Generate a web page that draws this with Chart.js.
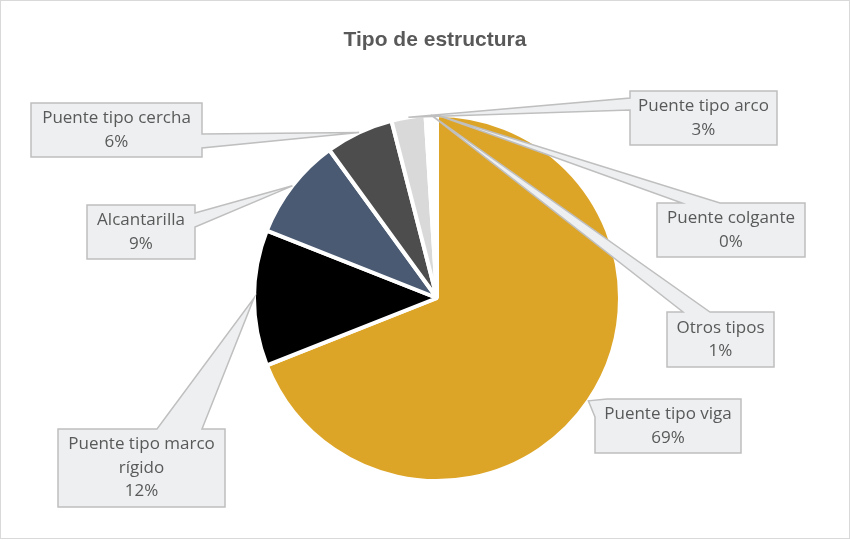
<!DOCTYPE html>
<html>
<head>
<meta charset="UTF-8">
<title>Tipo de estructura</title>
<script src="https://cdn.jsdelivr.net/npm/chart.js"></script>
<style>
  body { margin: 0; background: #fff; }
  #wrap { width: 850px; height: 540px; position: relative; }
</style>
</head>
<body>
<div id="wrap"><canvas id="pie"></canvas></div>
<script>
// datos
const categorias = ['Puente tipo viga', 'Puente tipo marco rígido', 'Alcantarilla', 'Puente tipo cercha', 'Puente tipo arco', 'Otros tipos', 'Puente colgante'];
const porcentajes = [69, 12, 9, 6, 3, 1, 0];
const colores = ['#DDA528', '#000000', '#4A5A72', '#4D4D4D', '#D9D9D9', '#FFFFFF', '#FFFFFF'];
const titulo = 'Tipo de estructura';

// cajas de las etiquetas (posicion de la caja y de la base de la flecha)
const cajas = [
  { x: 595, y: 399, w: 146, h: 54, side: 'corner', from: 18, to: 12, lines: ['Puente tipo viga'] },
  { x: 58, y: 429, w: 167, h: 78, side: 'top', from: 99, to: 144, lines: ['Puente tipo marco', 'rígido'] },
  { x: 87, y: 205, w: 108, h: 54, side: 'right', from: 8, to: 22, lines: ['Alcantarilla'] },
  { x: 31, y: 103, w: 171, h: 54, side: 'right', from: 31, to: 45, lines: ['Puente tipo cercha'] },
  { x: 630, y: 91, w: 147, h: 54, side: 'left', from: 7, to: 19, lines: ['Puente tipo arco'] },
  { x: 667, y: 312, w: 107, h: 55, side: 'top', from: 16, to: 43, lines: ['Otros tipos'] },
  { x: 657, y: 203, w: 148, h: 54, side: 'top', from: 25, to: 63, lines: ['Puente colgante'] }
];

function contorno(b, tip) {
  const TL = [b.x, b.y], TR = [b.x + b.w, b.y], BR = [b.x + b.w, b.y + b.h], BL = [b.x, b.y + b.h];
  if (b.side == 'top') return [TL, [b.x + b.from, b.y], tip, [b.x + b.to, b.y], TR, BR, BL];
  if (b.side == 'right') return [TL, TR, [b.x + b.w, b.y + b.from], tip, [b.x + b.w, b.y + b.to], BR, BL];
  if (b.side == 'left') return [TL, TR, BR, BL, [b.x, b.y + b.to], tip, [b.x, b.y + b.from]];
  return [[b.x, b.y + b.from], tip, [b.x + b.to, b.y], TR, BR, BL];
}

const etiquetas = {
  id: 'etiquetas',
  beforeDraw(chart) {
    const ctx = chart.ctx;
    ctx.save();
    ctx.strokeStyle = '#D9D9D9';
    ctx.lineWidth = 1;
    ctx.strokeRect(0.5, 0.5, chart.width - 1, chart.height - 2);
    ctx.restore();
  },
  afterDatasetsDraw(chart) {
    const ctx = chart.ctx;
    const arcs = chart.getDatasetMeta(0).data;
    ctx.save();
    ctx.font = 'bold 21px "Liberation Sans", Arial, sans-serif';
    ctx.fillStyle = '#595959';
    ctx.textAlign = 'center';
    ctx.textBaseline = 'middle';
    ctx.fillText(titulo, 435, 40);

    cajas.forEach((b, i) => {
      const a = arcs[i];
      const mid = (a.startAngle + a.endAngle) / 2;
      const tip = [a.x + Math.cos(mid) * a.outerRadius, a.y + Math.sin(mid) * a.outerRadius];
      const pts = contorno(b, tip);
      ctx.beginPath();
      ctx.moveTo(pts[0][0], pts[0][1]);
      for (let k = 1; k < pts.length; k++) ctx.lineTo(pts[k][0], pts[k][1]);
      ctx.closePath();
      ctx.fillStyle = '#EDEFF0';
      ctx.fill();
      ctx.strokeStyle = '#BFBFBF';
      ctx.lineWidth = 1.5;
      ctx.stroke();

      const lines = b.lines.concat([porcentajes[i] + '%']);
      ctx.fillStyle = '#595959';
      ctx.font = '17px "Open Sans", sans-serif';
      const lh = 23.5;
      const cy = b.y + b.h / 2 - (lines.length - 1) * lh / 2;
      lines.forEach((t, k) => ctx.fillText(t, b.x + b.w / 2, cy + k * lh));
    });
    ctx.restore();
  }
};

new Chart(document.getElementById('pie'), {
  type: 'pie',
  data: {
    labels: categorias,
    datasets: [{
      data: porcentajes,
      backgroundColor: colores,
      borderColor: '#FFFFFF',
      borderWidth: 4
    }]
  },
  options: {
    responsive: true,
    maintainAspectRatio: false,
    animation: false,
    layout: { padding: { top: 113, bottom: 57, left: 252, right: 228 } },
    plugins: {
      legend: { display: false },
      title: { display: false },
      tooltip: { enabled: false }
    }
  },
  plugins: [etiquetas]
});
</script>
</body>
</html>
